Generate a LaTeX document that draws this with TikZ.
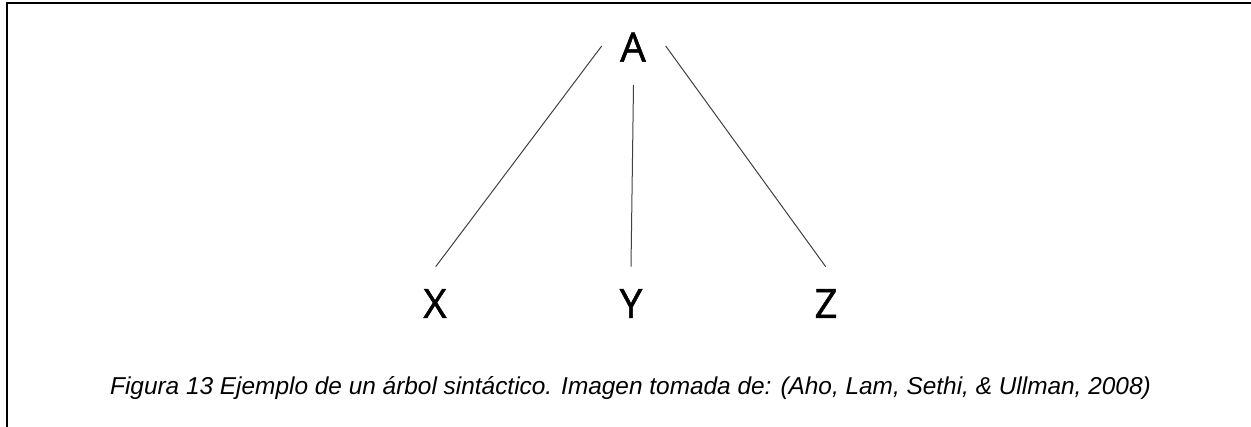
\documentclass[tikz,border=0pt]{standalone}
\usepackage{fontspec}
\setmainfont{Liberation Sans}
\newfontfamily\labelfont[FakeBold=1.2]{Open Sans}
\begin{document}
\begin{tikzpicture}[x=1pt,y=-1pt,
  lbl/.style={font=\labelfont\fontsize{40.6}{44}\selectfont, anchor=base, inner sep=0pt},
  edge/.style={draw=black!75, line width=1pt},
  frame/.style={draw=black, line width=2pt}]
\useasboundingbox (0,0) rectangle (1251,427);
\draw[frame] (7,427) -- (7,3) -- (1251,3);
\node[lbl] (A) at (633,61.7) {A};
\node[lbl] (X) at (435,318) {X};
\node[lbl] (Y) at (631,318) {Y};
\node[lbl] (Z) at (826,318) {Z};
\coordinate (Al) at (601.7,46);
\coordinate (Am) at (633.5,85);
\coordinate (Ar) at (665.7,46);
\coordinate (Xt) at (435.7,266.7);
\coordinate (Yt) at (631,266.7);
\coordinate (Zt) at (825.7,266.7);
\draw[edge] (Al) -- (Xt);
\draw[edge] (Am) -- (Yt);
\draw[edge] (Ar) -- (Zt);
\node[anchor=base, inner sep=0pt, font=\itshape\fontsize{24.4}{28}\selectfont] (cap) at (630.5,395)
  {Figura 13 Ejemplo de un árbol sintáctico. Imagen tomada de: (Aho, Lam, Sethi, \& Ullman, 2008)};
\end{tikzpicture}
\end{document}
